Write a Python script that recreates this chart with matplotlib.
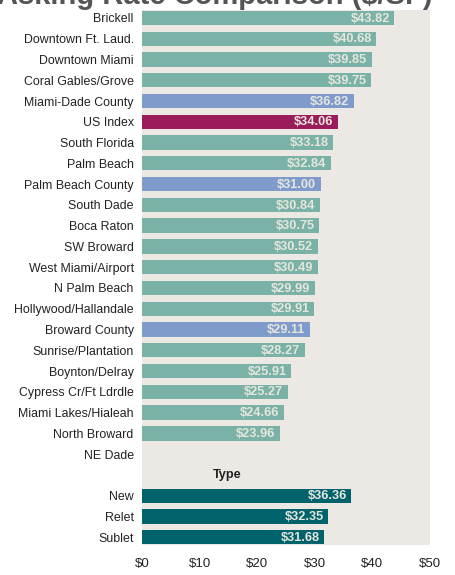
import numpy as np
import matplotlib
matplotlib.use("Agg")
import matplotlib.pyplot as plt
import matplotlib.transforms as mtransforms

plt.rcParams['font.family'] = ['Liberation Sans', 'DejaVu Sans']

# data
names = ["Brickell", "Downtown Ft. Laud.", "Downtown Miami", "Coral Gables/Grove",
         "Miami-Dade County", "US Index", "South Florida", "Palm Beach",
         "Palm Beach County", "South Dade", "Boca Raton", "SW Broward",
         "West Miami/Airport", "N Palm Beach", "Hollywood/Hallandale",
         "Broward County", "Sunrise/Plantation", "Boynton/Delray",
         "Cypress Cr/Ft Ldrdle", "Miami Lakes/Hialeah", "North Broward", "NE Dade",
         "", "New", "Relet", "Sublet"]
values = [43.82, 40.68, 39.85, 39.75, 36.82, 34.06, 33.18, 32.84, 31.00, 30.84,
          30.75, 30.52, 30.49, 29.99, 29.91, 29.11, 28.27, 25.91, 25.27, 24.66,
          23.96, None, None, 36.36, 32.35, 31.68]
kinds = ["sub", "sub", "sub", "sub", "county", "us", "sub", "sub", "county", "sub",
         "sub", "sub", "sub", "sub", "sub", "county", "sub", "sub", "sub", "sub",
         "sub", "sub", "none", "type", "type", "type"]
x_ticks = [0, 10, 20, 30, 40, 50]
x_tick_labels = ["$0", "$10", "$20", "$30", "$40", "$50"]

colors = {"sub": "#7ab2a8", "county": "#7f9bcc", "us": "#9b1c5a",
          "type": "#00626b", "none": "#ece9e4"}

fig = plt.figure(figsize=(4.56, 5.75), dpi=100)
ax = fig.add_axes([142 / 456, 1 - 545 / 575, 288 / 456, 535 / 575])
ax.set_facecolor("#ece9e4")

y = np.arange(len(names))
for i, (v, k) in enumerate(zip(values, kinds)):
    if v is None:
        continue
    ax.barh(i, v, height=0.69, color=colors[k], linewidth=0)
    ax.text(v - 0.8, i + 0.03, "$%.2f" % v, ha="right", va="center", color="#e6e6dc",
            fontsize=9.2, fontweight="bold")

trans = mtransforms.blended_transform_factory(ax.transAxes, ax.transData)
ax.text(0.295, 22, "Type", transform=trans, ha="center", va="center",
        fontsize=9.2, fontweight="bold", color="#222222")

ax.set_ylim(25.37, -0.38)
ax.set_xlim(0, 50)
ax.set_yticks(y)
ax.set_yticklabels(names, fontsize=8.9, color="#222222")
ax.set_xticks(x_ticks)
ax.set_xticklabels(x_tick_labels, fontsize=9.5, color="#222222")
ax.tick_params(axis="both", length=0)
ax.tick_params(axis="y", pad=6)
ax.tick_params(axis="x", pad=9)
for s in ax.spines.values():
    s.set_visible(False)

# title, mostly cut off at the top of the picture
fig.text(0.47, 1 - 4 / 575, "Asking Rate Comparison ($/SF)", ha="center",
         va="baseline", fontsize=21, fontweight="bold", color="#555555")

fig.savefig("out.png", dpi=100)
